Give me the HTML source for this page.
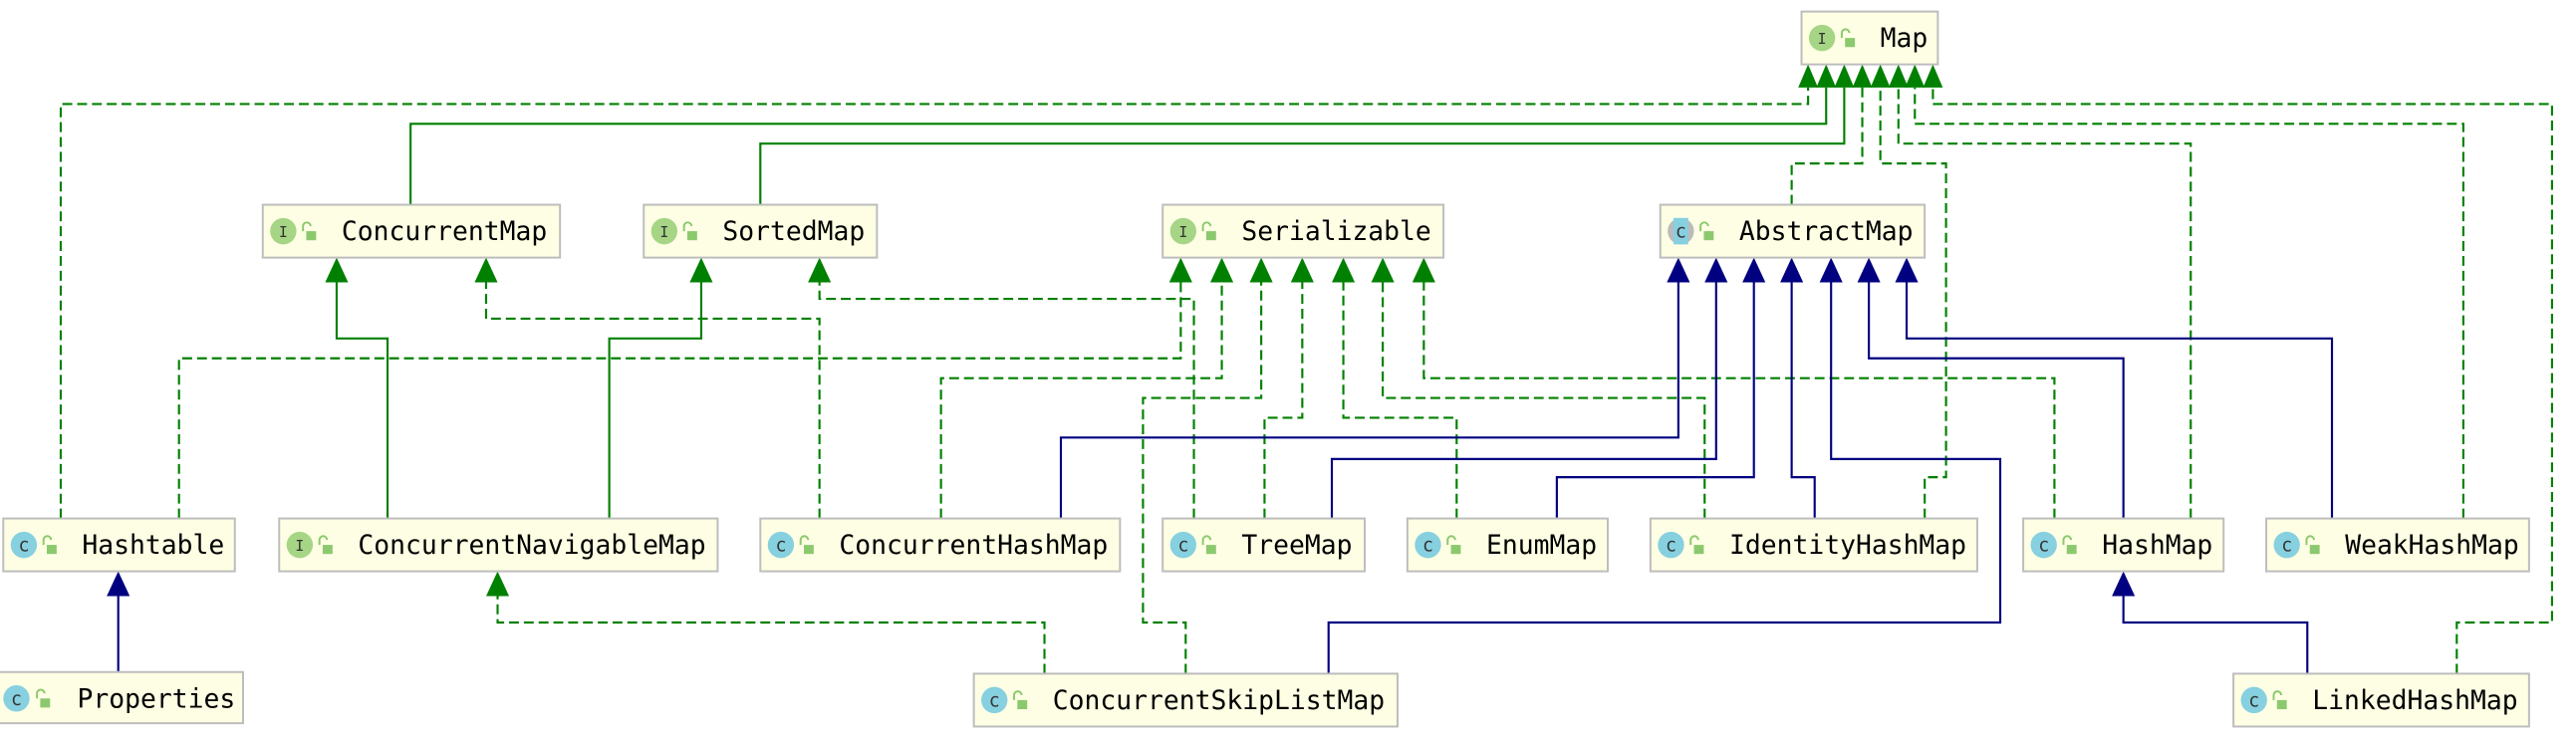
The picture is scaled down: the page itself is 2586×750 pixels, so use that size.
<!DOCTYPE html>
<html><head><meta charset="utf-8"><style>
html,body{margin:0;padding:0;background:#fff;}
svg{display:block;}
text{font-family:"DejaVu Sans Mono","Liberation Mono",monospace;}
</style></head><body>
<svg width="2586" height="750" viewBox="0 0 1568.6 452.4" preserveAspectRatio="none" xmlns="http://www.w3.org/2000/svg">
<defs>
<g id="lock"><path d="M-3.5,-1 V-4 a2.3,2.3 0 0 1 4.6,0" fill="none" stroke="#8cc96e" stroke-width="1.2"/><rect x="-1.5" y="-1" width="6" height="5.5" fill="#8cc96e"/></g>
</defs>
<g fill="none" stroke-width="1.3">
<g stroke="#008000" stroke-dasharray="6,3">
<path d="M37 314 V63 H1101 V53"/>
<path d="M1091 124 V99 H1134 V53"/>
<path d="M1172 314 V289 H1185 V99 H1145 V53"/>
<path d="M1334 314 V87 H1156 V53"/>
<path d="M1500 314 V75 H1166 V53"/>
<path d="M1496 408 V377 H1554 V63 H1177 V53"/>
<path d="M499 314 V193 H296 V171"/>
<path d="M727 314 V181 H499 V171"/>
<path d="M109 314 V217 H719 V171"/>
<path d="M573 314 V229 H744 V171"/>
<path d="M722 408 V377 H696 V241 H768 V171"/>
<path d="M770 314 V253 H793 V171"/>
<path d="M887 314 V253 H818 V171"/>
<path d="M1038 314 V241 H842 V171"/>
<path d="M1251 314 V229 H867 V171"/>
<path d="M636 408 V377 H303 V361"/>
</g>
<g stroke="#008000">
<path d="M250 124 V75 H1112 V53"/>
<path d="M463 124 V87 H1123 V53"/>
<path d="M236 314 V205 H205 V171"/>
<path d="M371 314 V205 H427 V171"/>
</g>
<g stroke="#000080">
<path d="M646 314 V265 H1022 V171"/>
<path d="M811 314 V278 H1045 V171"/>
<path d="M948 314 V289 H1068 V171"/>
<path d="M1105 314 V289 H1091 V171"/>
<path d="M809 408 V377 H1218 V278 H1115 V171"/>
<path d="M1293 314 V217 H1138 V171"/>
<path d="M1420 314 V205 H1161 V171"/>
<path d="M72 408 V361"/>
<path d="M1405 408 V377 H1293 V361"/>
</g>
</g>
<g fill="#008000">
<polygon points="1101,39 1095,53 1107,53"/><polygon points="1112,39 1106,53 1118,53"/>
<polygon points="1123,39 1117,53 1129,53"/><polygon points="1134,39 1128,53 1140,53"/>
<polygon points="1145,39 1139,53 1151,53"/><polygon points="1156,39 1150,53 1162,53"/>
<polygon points="1166,39 1160,53 1172,53"/><polygon points="1177,39 1171,53 1183,53"/>
<polygon points="205,156 198,171 212,171"/><polygon points="296,156 289,171 303,171"/>
<polygon points="427,156 420,171 434,171"/><polygon points="499,156 492,171 506,171"/>
<polygon points="719,156 712,171 726,171"/><polygon points="744,156 737,171 751,171"/>
<polygon points="768,156 761,171 775,171"/><polygon points="793,156 786,171 800,171"/>
<polygon points="818,156 811,171 825,171"/><polygon points="842,156 835,171 849,171"/>
<polygon points="867,156 860,171 874,171"/>
<polygon points="303,346 296,361 310,361"/>
</g>
<g fill="#000080">
<polygon points="1022,156 1015,171 1029,171"/><polygon points="1045,156 1038,171 1052,171"/>
<polygon points="1068,156 1061,171 1075,171"/><polygon points="1091,156 1084,171 1098,171"/>
<polygon points="1115,156 1108,171 1122,171"/><polygon points="1138,156 1131,171 1145,171"/>
<polygon points="1161,156 1154,171 1168,171"/>
<polygon points="72,346 65,361 79,361"/><polygon points="1293,346 1286,361 1300,361"/>
</g>
<g font-size="16">
<!-- nodes -->
<g transform="translate(1097,7)"><rect width="83" height="32" fill="#fefee4" stroke="#bdbdbd" stroke-width="1.2"/><circle cx="12.5" cy="16" r="8" fill="#a5d585"/><text x="12.5" y="19.5" font-size="9" text-anchor="middle" fill="#333">I</text><use href="#lock" x="28" y="17"/><text x="48" y="21.5" fill="#000">Map</text></g>
<g transform="translate(160,124)"><rect width="181" height="32" fill="#fefee4" stroke="#bdbdbd" stroke-width="1.2"/><circle cx="12.5" cy="16" r="8" fill="#a5d585"/><text x="12.5" y="19.5" font-size="9" text-anchor="middle" fill="#333">I</text><use href="#lock" x="28" y="17"/><text x="48" y="21.5" fill="#000">ConcurrentMap</text></g>
<g transform="translate(392,124)"><rect width="142" height="32" fill="#fefee4" stroke="#bdbdbd" stroke-width="1.2"/><circle cx="12.5" cy="16" r="8" fill="#a5d585"/><text x="12.5" y="19.5" font-size="9" text-anchor="middle" fill="#333">I</text><use href="#lock" x="28" y="17"/><text x="48" y="21.5" fill="#000">SortedMap</text></g>
<g transform="translate(708,124)"><rect width="171" height="32" fill="#fefee4" stroke="#bdbdbd" stroke-width="1.2"/><circle cx="12.5" cy="16" r="8" fill="#a5d585"/><text x="12.5" y="19.5" font-size="9" text-anchor="middle" fill="#333">I</text><use href="#lock" x="28" y="17"/><text x="48" y="21.5" fill="#000">Serializable</text></g>
<g transform="translate(1011,124)"><rect width="161" height="32" fill="#fefee4" stroke="#bdbdbd" stroke-width="1.2"/><circle cx="12.5" cy="16" r="8" fill="#bbb"/><rect x="8" y="8" width="9" height="16" fill="#86d0e0"/><text x="12.5" y="20" font-size="11" text-anchor="middle" fill="#333">c</text><use href="#lock" x="28" y="17"/><text x="48" y="21.5" fill="#000">AbstractMap</text></g>

<g transform="translate(2,314)"><rect width="141" height="32" fill="#fefee4" stroke="#bdbdbd" stroke-width="1.2"/><circle cx="12.5" cy="16" r="8" fill="#86d0e0"/><text x="12.5" y="20" font-size="11" text-anchor="middle" fill="#333">c</text><use href="#lock" x="28" y="17"/><text x="48" y="21.5" fill="#000">Hashtable</text></g>
<g transform="translate(170,314)"><rect width="267" height="32" fill="#fefee4" stroke="#bdbdbd" stroke-width="1.2"/><circle cx="12.5" cy="16" r="8" fill="#a5d585"/><text x="12.5" y="19.5" font-size="9" text-anchor="middle" fill="#333">I</text><use href="#lock" x="28" y="17"/><text x="48" y="21.5" fill="#000">ConcurrentNavigableMap</text></g>
<g transform="translate(463,314)"><rect width="219" height="32" fill="#fefee4" stroke="#bdbdbd" stroke-width="1.2"/><circle cx="12.5" cy="16" r="8" fill="#86d0e0"/><text x="12.5" y="20" font-size="11" text-anchor="middle" fill="#333">c</text><use href="#lock" x="28" y="17"/><text x="48" y="21.5" fill="#000">ConcurrentHashMap</text></g>
<g transform="translate(708,314)"><rect width="123" height="32" fill="#fefee4" stroke="#bdbdbd" stroke-width="1.2"/><circle cx="12.5" cy="16" r="8" fill="#86d0e0"/><text x="12.5" y="20" font-size="11" text-anchor="middle" fill="#333">c</text><use href="#lock" x="28" y="17"/><text x="48" y="21.5" fill="#000">TreeMap</text></g>
<g transform="translate(857,314)"><rect width="122" height="32" fill="#fefee4" stroke="#bdbdbd" stroke-width="1.2"/><circle cx="12.5" cy="16" r="8" fill="#86d0e0"/><text x="12.5" y="20" font-size="11" text-anchor="middle" fill="#333">c</text><use href="#lock" x="28" y="17"/><text x="48" y="21.5" fill="#000">EnumMap</text></g>
<g transform="translate(1005,314)"><rect width="199" height="32" fill="#fefee4" stroke="#bdbdbd" stroke-width="1.2"/><circle cx="12.5" cy="16" r="8" fill="#86d0e0"/><text x="12.5" y="20" font-size="11" text-anchor="middle" fill="#333">c</text><use href="#lock" x="28" y="17"/><text x="48" y="21.5" fill="#000">IdentityHashMap</text></g>
<g transform="translate(1232,314)"><rect width="122" height="32" fill="#fefee4" stroke="#bdbdbd" stroke-width="1.2"/><circle cx="12.5" cy="16" r="8" fill="#86d0e0"/><text x="12.5" y="20" font-size="11" text-anchor="middle" fill="#333">c</text><use href="#lock" x="28" y="17"/><text x="48" y="21.5" fill="#000">HashMap</text></g>
<g transform="translate(1380,314)"><rect width="160" height="32" fill="#fefee4" stroke="#bdbdbd" stroke-width="1.2"/><circle cx="12.5" cy="16" r="8" fill="#86d0e0"/><text x="12.5" y="20" font-size="11" text-anchor="middle" fill="#333">c</text><use href="#lock" x="28" y="17"/><text x="48" y="21.5" fill="#000">WeakHashMap</text></g>

<g transform="translate(-4,407)"><rect width="152" height="31" fill="#fefee4" stroke="#bdbdbd" stroke-width="1.2"/><circle cx="14" cy="16" r="8" fill="#86d0e0"/><text x="14" y="20" font-size="11" text-anchor="middle" fill="#333">c</text><use href="#lock" x="30" y="17"/><text x="51" y="21.5" fill="#000">Properties</text></g>
<g transform="translate(593,408)"><rect width="258" height="32" fill="#fefee4" stroke="#bdbdbd" stroke-width="1.2"/><circle cx="12.5" cy="16" r="8" fill="#86d0e0"/><text x="12.5" y="20" font-size="11" text-anchor="middle" fill="#333">c</text><use href="#lock" x="28" y="17"/><text x="48" y="21.5" fill="#000">ConcurrentSkipListMap</text></g>
<g transform="translate(1360,408)"><rect width="180" height="32" fill="#fefee4" stroke="#bdbdbd" stroke-width="1.2"/><circle cx="12.5" cy="16" r="8" fill="#86d0e0"/><text x="12.5" y="20" font-size="11" text-anchor="middle" fill="#333">c</text><use href="#lock" x="28" y="17"/><text x="48" y="21.5" fill="#000">LinkedHashMap</text></g>
</g>
</svg>
</body></html>
